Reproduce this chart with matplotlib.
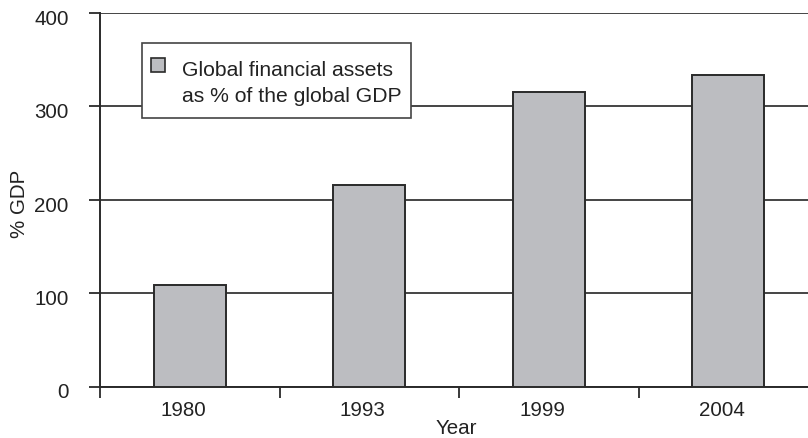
import matplotlib
matplotlib.use("Agg")
import matplotlib.pyplot as plt
from matplotlib.patches import Rectangle
from matplotlib.transforms import ScaledTranslation

categories = ["1980", "1993", "1999", "2004"]
values = [109, 216, 315, 334]
y_ticks = [0, 100, 200, 300, 400]
legend_lines = ["Global financial assets", "as % of the global GDP"]

plt.rcParams['font.family'] = ['Liberation Sans', 'DejaVu Sans']

W, H = 808, 438
BAR_FC = "#bcbdc1"
DARK = "#2a2a2a"
TXT = "#222222"
FS = 14.8

fig = plt.figure(figsize=(W / 100, H / 100), dpi=100)
left, right, bottom, top = 100, 818, 386.5, 13
ax = fig.add_axes([left / W, 1 - bottom / H, (right - left) / W, (bottom - top) / H])

x = list(range(len(categories)))
ax.bar(x, values, width=0.40, color=BAR_FC, edgecolor=DARK, linewidth=1.4, zorder=3)

ax.set_xlim(-0.5, len(categories) - 0.5)
ax.set_ylim(0, 400)
ax.set_yticks(y_ticks)
ax.set_yticklabels([str(v) for v in y_ticks], fontsize=FS, color=TXT)
ax.set_xticks(x)
ax.set_xticklabels(categories, fontsize=FS, color=TXT)
ax.tick_params(axis="x", length=0, pad=10.5)
ax.set_xticks([i - 0.5 for i in range(len(categories) + 1)], minor=True)
ax.tick_params(axis="x", which="minor", length=8, width=1.3, color=DARK, direction="out")
ax.tick_params(axis="y", length=8, width=1.3, color=DARK, direction="out", pad=14.5)

# small offsets of tick labels as in reference
dx = ScaledTranslation(-6.5 / 100, 0, fig.dpi_scale_trans)
for lbl in ax.get_xticklabels():
    lbl.set_transform(lbl.get_transform() + dx)
dy = ScaledTranslation(0, -4.5 / 100, fig.dpi_scale_trans)
for lbl in ax.get_yticklabels():
    lbl.set_transform(lbl.get_transform() + dy)

ax.yaxis.grid(True, color="#444444", linewidth=1.4, zorder=0)
ax.set_axisbelow(True)
for s in ["top", "right"]:
    ax.spines[s].set_visible(False)
for s in ["left", "bottom"]:
    ax.spines[s].set_linewidth(1.4)
    ax.spines[s].set_color(DARK)

ax.set_ylabel("% GDP", fontsize=FS, color=TXT)
ax.yaxis.set_label_coords((29 - left) / (right - left), 0.49)
ax.set_xlabel("Year", fontsize=FS, color=TXT)
ax.xaxis.set_label_coords((456 - left) / (right - left), (bottom - 419.0) / (bottom - top))

# legend box (pixel layout from reference)
def fx(px):
    return px / W

def fy(py):
    return 1 - py / H

fig.patches.append(Rectangle((fx(142), fy(118)), fx(411) - fx(142), fy(43) - fy(118),
                             transform=fig.transFigure, facecolor="white",
                             edgecolor="#444444", linewidth=1.2, zorder=5))
fig.patches.append(Rectangle((fx(151), fy(72)), fx(165) - fx(151), fy(58) - fy(72),
                             transform=fig.transFigure, facecolor=BAR_FC,
                             edgecolor=DARK, linewidth=1.2, zorder=6))
fig.text(fx(181.5), fy(75.7), legend_lines[0], fontsize=15.2, color=TXT, va="baseline", ha="left", zorder=7)
fig.text(fx(181.5), fy(101.7), legend_lines[1], fontsize=15.2, color=TXT, va="baseline", ha="left", zorder=7)

fig.savefig("out.png", dpi=100)
